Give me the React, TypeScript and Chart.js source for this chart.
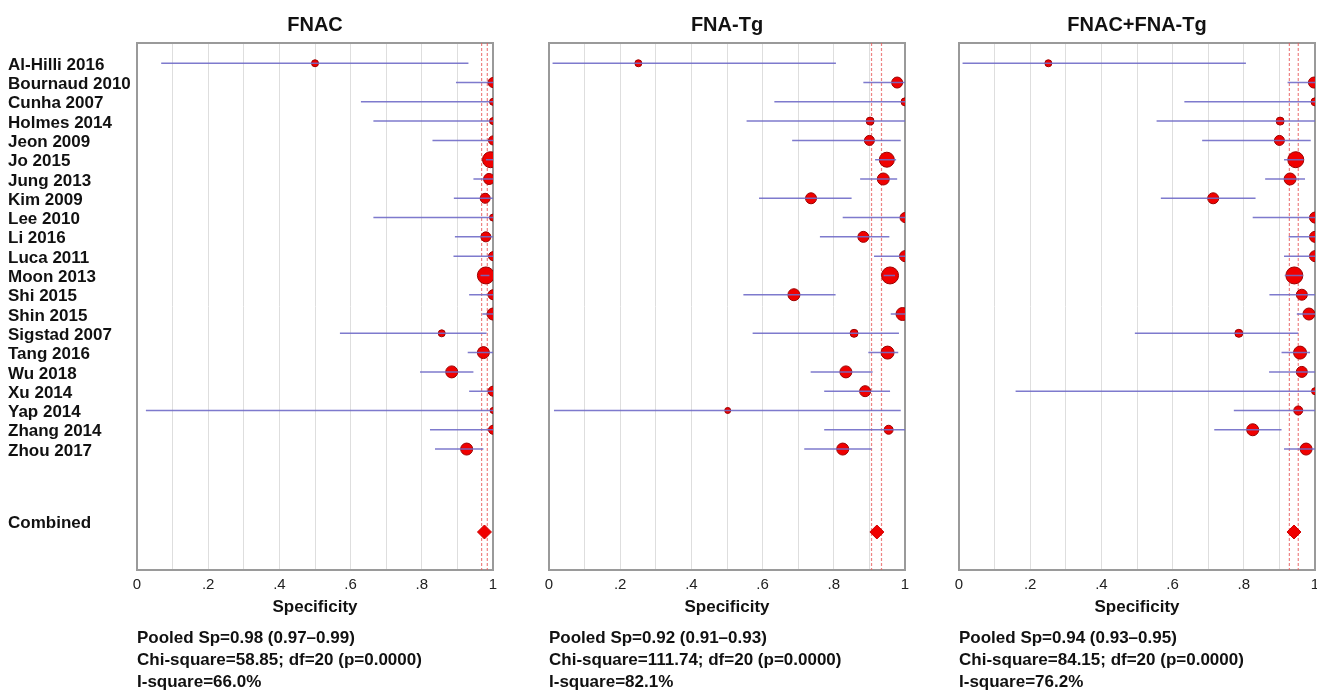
import React, { useEffect, useRef } from 'react';
import { Chart, registerables } from 'chart.js';

Chart.register(...registerables);

// ---------- data ----------
const studies = [
  'Al-Hilli 2016', 'Bournaud 2010', 'Cunha 2007', 'Holmes 2014', 'Jeon 2009', 'Jo 2015',
  'Jung 2013', 'Kim 2009', 'Lee 2010', 'Li 2016', 'Luca 2011', 'Moon 2013', 'Shi 2015',
  'Shin 2015', 'Sigstad 2007', 'Tang 2016', 'Wu 2018', 'Xu 2014', 'Yap 2014', 'Zhang 2014', 'Zhou 2017',
];
const combinedLabel = 'Combined';

const panelTitles = ['FNAC', 'FNA-Tg', 'FNAC+FNA-Tg'];

// FNAC
const fnacSp = [0.50, 1.0, 1.0, 1.0, 1.0, 0.993, 0.989, 0.978, 1.0, 0.980, 1.0, 0.980, 1.0, 1.0, 0.856, 0.973, 0.884, 1.0, 1.0, 1.0, 0.926];
const fnacLo = [0.068, 0.896, 0.629, 0.664, 0.830, 0.980, 0.945, 0.890, 0.664, 0.893, 0.889, 0.965, 0.933, 0.970, 0.570, 0.929, 0.795, 0.933, 0.025, 0.823, 0.837];
const fnacHi = [0.931, 1.0, 1.0, 1.0, 1.0, 1.0, 1.0, 1.0, 1.0, 1.0, 1.0, 0.990, 1.0, 1.0, 0.982, 1.0, 0.945, 1.0, 1.0, 1.0, 0.973];
const fnacWeight = [3.5, 5, 3.5, 3.5, 4.5, 8, 5.5, 5, 3.5, 5, 4.5, 8.5, 5, 6, 3.5, 6, 6, 5, 3, 4.5, 6];

// FNA-Tg
const tgSp = [0.251, 0.978, 1.0, 0.902, 0.900, 0.949, 0.939, 0.736, 1.0, 0.883, 1.0, 0.958, 0.688, 0.993, 0.857, 0.951, 0.834, 0.888, 0.502, 0.954, 0.825];
const tgLo = [0.010, 0.883, 0.633, 0.555, 0.683, 0.916, 0.874, 0.590, 0.825, 0.761, 0.913, 0.940, 0.546, 0.960, 0.572, 0.897, 0.735, 0.773, 0.014, 0.773, 0.717];
const tgHi = [0.806, 1.0, 1.0, 1.0, 0.988, 0.975, 0.978, 0.850, 1.0, 0.956, 1.0, 0.972, 0.805, 1.0, 0.983, 0.981, 0.909, 0.958, 0.988, 1.0, 0.906];
const tgWeight = [3.5, 5.5, 4, 4, 5, 7.5, 6, 5.5, 5, 5.5, 5.5, 8.5, 6, 6.5, 4, 6.5, 6, 5.5, 3, 4.5, 6];

// FNAC+FNA-Tg
const bothSp = [0.251, 0.997, 1.0, 0.902, 0.900, 0.946, 0.930, 0.714, 1.0, 1.0, 1.0, 0.942, 0.963, 0.983, 0.786, 0.958, 0.963, 1.0, 0.953, 0.825, 0.975];
const bothLo = [0.010, 0.923, 0.633, 0.555, 0.683, 0.913, 0.860, 0.567, 0.825, 0.926, 0.913, 0.915, 0.872, 0.949, 0.494, 0.906, 0.871, 0.159, 0.772, 0.717, 0.913];
const bothHi = [0.806, 1.0, 1.0, 1.0, 0.988, 0.968, 0.972, 0.833, 1.0, 1.0, 1.0, 0.966, 1.0, 1.0, 0.953, 0.986, 1.0, 1.0, 1.0, 0.906, 1.0];
const bothWeight = [3.5, 5.5, 4, 4, 5, 8, 6, 5.5, 5.5, 5.5, 5.5, 8.5, 5.5, 6, 4, 6.5, 5.5, 3.5, 4.5, 6, 6];

const pooledSp = [0.976, 0.921, 0.941];
const pooledLo = [0.968, 0.906, 0.928];
const pooledHi = [0.984, 0.934, 0.953];

const statsFnac = ['Pooled Sp=0.98 (0.97\u20130.99)', 'Chi-square=58.85; df=20 (p=0.0000)', 'I-square=66.0%'];
const statsTg = ['Pooled Sp=0.92 (0.91\u20130.93)', 'Chi-square=111.74; df=20 (p=0.0000)', 'I-square=82.1%'];
const statsBoth = ['Pooled Sp=0.94 (0.93\u20130.95)', 'Chi-square=84.15; df=20 (p=0.0000)', 'I-square=76.2%'];

const xTickValues = [0, 0.2, 0.4, 0.6, 0.8, 1];
const xTickLabels = ['0', '.2', '.4', '.6', '.8', '1'];
const xAxisTitle = 'Specificity';

// ---------- layout / style ----------
const FONT = 'Arial, "Liberation Sans", Helvetica, sans-serif';
const ROW_COMBINED = 24.3;
const ROW_COMBINED_LABEL = 23.85;
const LABEL_SHIFT = 0.1;
const Y_MIN = -1.05;
const Y_MAX = 26.27;

const panels = [
  { title: panelTitles[0], sp: fnacSp, lo: fnacLo, hi: fnacHi, w: fnacWeight, stats: statsFnac, left: 0, width: 520, padL: 8, padR: 27, showY: true },
  { title: panelTitles[1], sp: tgSp, lo: tgLo, hi: tgHi, w: tgWeight, stats: statsTg, left: 520, width: 410, padL: 29, padR: 25, showY: false },
  { title: panelTitles[2], sp: bothSp, lo: bothLo, hi: bothHi, w: bothWeight, stats: statsBoth, left: 930, width: 410, padL: 29, padR: 25, showY: false },
];

const framePlugin = {
  id: 'frame',
  beforeDatasetsDraw(chart: any) {
    const { ctx, chartArea } = chart;
    ctx.save();
    ctx.strokeStyle = '#9a9a9a';
    ctx.lineWidth = 2;
    ctx.strokeRect(chartArea.left, chartArea.top, chartArea.right - chartArea.left, chartArea.bottom - chartArea.top);
    ctx.restore();
  },
};

function Panel({ idx }: { idx: number }) {
  const ref = useRef<HTMLCanvasElement | null>(null);
  const p = panels[idx];
  useEffect(() => {
    if (!ref.current) return;
    const ciData: any[] = [];
    p.lo.forEach((l, i) => {
      ciData.push({ x: l, y: i });
      ciData.push({ x: p.hi[i], y: i });
      ciData.push({ x: null, y: null });
    });
    const pts = p.sp.map((v, i) => ({ x: v, y: i }));
    const yTickVals = [...studies.map((_, i) => i + LABEL_SHIFT), ROW_COMBINED_LABEL];
    const yTickText = [...studies, combinedLabel];

    const chart = new Chart(ref.current, {
      type: 'scatter',
      data: {
        datasets: [
          {
            label: 'CI',
            data: ciData,
            showLine: true,
            spanGaps: false,
            borderColor: 'rgba(112,108,200,0.9)',
            borderWidth: 1.5,
            pointRadius: 0,
          } as any,
          {
            label: 'Studies',
            data: pts,
            pointRadius: p.w,
            pointBackgroundColor: '#f00000',
            pointBorderColor: '#9b0000',
            pointBorderWidth: 1,
          },
          {
            label: 'Pooled',
            data: [{ x: pooledSp[idx], y: ROW_COMBINED }],
            pointStyle: 'rectRot',
            pointRadius: 7,
            pointBackgroundColor: '#f00000',
            pointBorderColor: '#d00000',
            pointBorderWidth: 1,
          },
          {
            label: 'Lower',
            data: [{ x: pooledLo[idx], y: Y_MIN }, { x: pooledLo[idx], y: Y_MAX }],
            showLine: true,
            borderColor: 'rgba(232,90,90,0.75)',
            borderWidth: 1.2,
            borderDash: [3, 2],
            pointRadius: 0,
          } as any,
          {
            label: 'Upper',
            data: [{ x: pooledHi[idx], y: Y_MIN }, { x: pooledHi[idx], y: Y_MAX }],
            showLine: true,
            borderColor: 'rgba(232,90,90,0.75)',
            borderWidth: 1.2,
            borderDash: [3, 2],
            pointRadius: 0,
          } as any,
        ],
      },
      options: {
        responsive: false,
        animation: false,
        layout: { padding: { left: p.padL, right: p.padR, top: 0, bottom: 0 } },
        plugins: {
          legend: { display: false },
          tooltip: { enabled: false },
          title: {
            display: true,
            text: p.title,
            fullSize: false,
            color: '#111',
            font: { family: FONT, size: 20, weight: 'bold', lineHeight: 1.2 },
            padding: { top: 13, bottom: 6 },
          },
          subtitle: {
            display: true,
            position: 'bottom',
            align: 'start',
            fullSize: false,
            text: p.stats,
            color: '#111',
            font: { family: FONT, size: 17, weight: 'bold', lineHeight: '22px' as any },
            padding: { top: 2, bottom: 0 },
          },
        },
        scales: {
          x: {
            type: 'linear',
            min: 0,
            max: 1,
            afterFit(scale: any) { scale.height = 55; },
            afterBuildTicks(scale: any) {
              const t: any[] = [];
              for (let k = 0; k <= 10; k++) t.push({ value: k / 10 });
              scale.ticks = t;
            },
            ticks: {
              autoSkip: false,
              maxRotation: 0,
              padding: 6,
              color: '#222',
              font: { family: FONT, size: 15 },
              callback: (v: any) => {
                const j = xTickValues.findIndex((t) => Math.abs(t - v) < 1e-6);
                return j >= 0 ? xTickLabels[j] : '';
              },
            },
            grid: { color: '#dedede', lineWidth: 1, drawTicks: false },
            border: { display: false },
            title: {
              display: true,
              text: xAxisTitle,
              color: '#111',
              font: { family: FONT, size: 17, weight: 'bold', lineHeight: 1.2 },
              padding: { top: 0, bottom: 7 },
            },
          },
          y: {
            type: 'linear',
            display: p.showY,
            reverse: true,
            min: Y_MIN,
            max: Y_MAX,
            afterFit(scale: any) { if (p.showY) scale.width = 129; },
            afterBuildTicks(scale: any) {
              scale.ticks = yTickVals.map((v) => ({ value: v }));
            },
            ticks: {
              autoSkip: false,
              crossAlign: 'far',
              padding: 0,
              color: '#111',
              font: { family: FONT, size: 17, weight: 'bold' },
              callback: (_v: any, i: number) => yTickText[i],
            },
            grid: { display: false, drawTicks: false },
            border: { display: false },
          },
        },
      } as any,
      plugins: [framePlugin],
    });
    return () => chart.destroy();
  }, []);
  return (
    <canvas
      ref={ref}
      width={p.width}
      height={693}
      style={{ position: 'absolute', left: p.left, top: 0, width: p.width, height: 693 }}
    />
  );
}

export default function App() {
  return (
    <div style={{ position: 'fixed', left: 0, top: 0, width: 1317, height: 693, overflow: 'hidden', background: '#fff' }}>
      <Panel idx={0} />
      <Panel idx={1} />
      <Panel idx={2} />
    </div>
  );
}
